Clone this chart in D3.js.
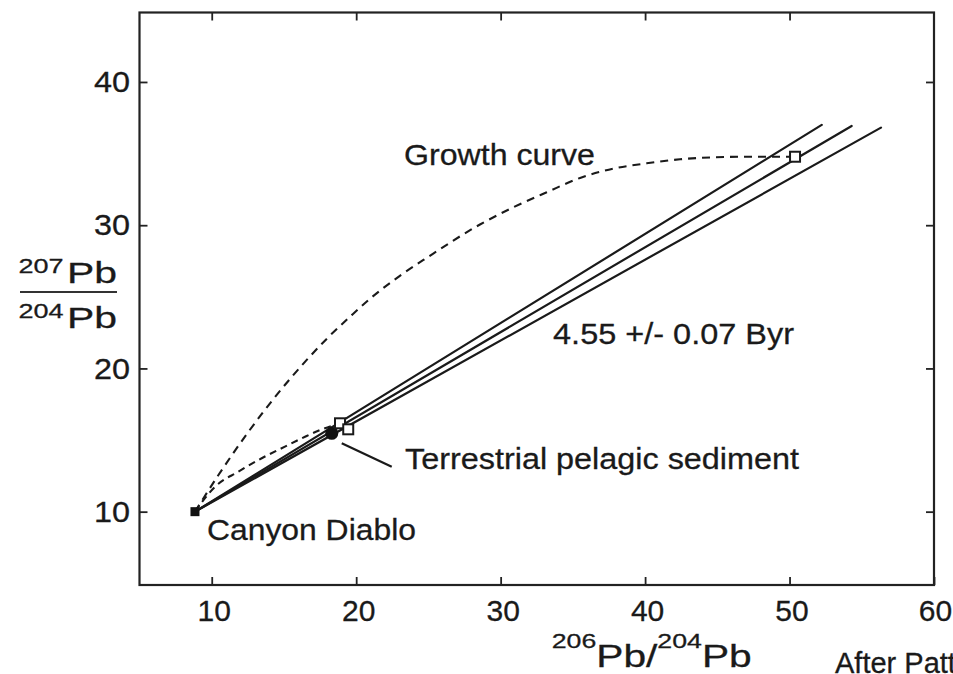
<!DOCTYPE html>
<html>
<head>
<meta charset="utf-8">
<script src="https://cdn.jsdelivr.net/npm/d3@7/dist/d3.min.js"></script>
<style>
  html, body { margin: 0; padding: 0; background: #fff; }
  svg { display: block; }
  text { font-family: "Liberation Sans", Arial, Helvetica, sans-serif; fill: #1a1a1a; stroke: #1a1a1a; stroke-width: 0.3; }
</style>
</head>
<body>
<script>
// Pb–Pb isochron diagram: 207Pb/204Pb versus 206Pb/204Pb

// Axis tick values
const xTicks = [10, 20, 30, 40, 50, 60];
const yTicks = [10, 20, 30, 40];

// Canyon Diablo troilite (primordial lead)
const canyonDiablo = [8.84, 10.0];

// Terrestrial pelagic sediment (filled circle)
const sediment = [18.31, 15.47];

// Open squares: modern lead estimates and the high-mu growth end point
const openSquareX = [18.88, 19.45, 50.38];
const openSquareY = [16.17, 15.75, 34.78];

// High-mu lead growth curve (dashed)
const growthX = [8.84, 10.5, 12.5, 14.5, 16.5, 18.0, 19.69, 21.0, 23.0, 25.0, 28.57,
                 30.88, 33.19, 35.5, 37.8, 40.11, 42.42, 44.72, 47.04, 50.38];
const growthY = [10.0, 12.61, 15.52, 18.15, 20.51, 22.11, 23.72, 24.9, 26.45, 27.8, 30.05,
                 31.25, 32.3, 33.3, 33.95, 34.32, 34.6, 34.74, 34.78, 34.78];

// Growth curve ending at terrestrial lead (dashed)
const crustX = [8.84, 10.23, 11.84, 13.46, 15.07, 16.46, 17.5, 18.88];
const crustY = [10.0, 11.74, 12.79, 13.73, 14.54, 15.23, 15.70, 16.17];

// Isochrons (4.55 Byr and its error envelope), from Canyon Diablo to these ends
const isochronEndX = [52.23, 54.30, 56.33];
const isochronEndY = [37.0, 36.93, 36.81];

// Pointer from the sediment point to its label
const pointerX = [19.0, 22.46];
const pointerY = [14.77, 13.14];

const W = 953, H = 674;
const svg = d3.select("body").append("svg").attr("width", W).attr("height", H);

const x = d3.scaleLinear().domain([5, 60]).range([139.5, 934]);
const y = d3.scaleLinear().domain([4.88, 44.85]).range([585, 12.5]);

const ink = "#1a1a1a";

// Frame
svg.append("rect")
  .attr("x", x(5)).attr("y", y(44.85))
  .attr("width", x(60) - x(5)).attr("height", y(4.88) - y(44.85))
  .attr("fill", "none").attr("stroke", "#222").attr("stroke-width", 2.2);

function styleAxis(g, fontSize) {
  g.select(".domain").remove();
  g.selectAll(".tick line").attr("stroke", "#222").attr("stroke-width", 1.8);
  g.selectAll(".tick text").attr("font-size", fontSize).attr("fill", ink)
    .attr("font-family", "'Liberation Sans', Arial, sans-serif");
}

// Bottom axis (inward ticks)
const gx = svg.append("g").attr("transform", `translate(0,${y(4.88)})`)
  .call(d3.axisBottom(x).tickValues(xTicks).tickSizeInner(-8).tickSizeOuter(0).tickPadding(15));
styleAxis(gx, 30);
gx.selectAll(".tick text").attr("dx", d => d === 60 ? 1 : 2);

// Top axis, ticks only
const gxt = svg.append("g").attr("transform", `translate(0,${y(44.85)})`)
  .call(d3.axisTop(x).tickValues(xTicks.slice(0, -1)).tickSizeInner(-8).tickSizeOuter(0).tickFormat(() => ""));
styleAxis(gxt, 0);

// Left axis
const gy = svg.append("g").attr("transform", `translate(${x(5)},0)`)
  .call(d3.axisLeft(y).tickValues(yTicks).tickSizeInner(-8).tickSizeOuter(0).tickPadding(9.5));
styleAxis(gy, 30);
gy.selectAll(".tick text").attr("textLength", 36).attr("lengthAdjust", "spacingAndGlyphs");

// Right axis, ticks only
const gyr = svg.append("g").attr("transform", `translate(${x(60)},0)`)
  .call(d3.axisRight(y).tickValues(yTicks).tickSizeInner(-8).tickSizeOuter(0).tickFormat(() => ""));
styleAxis(gyr, 0);

// Isochron lines
const line = d3.line().x(d => x(d[0])).y(d => y(d[1]));
isochronEndX.forEach((ex, i) => {
  svg.append("path")
    .attr("d", line([canyonDiablo, [ex, isochronEndY[i]]]))
    .attr("fill", "none").attr("stroke", ink).attr("stroke-width", 2.2)
    .attr("stroke-linecap", "round");
});

// Dashed growth curves
const curve = d3.line().x(d => x(d[0])).y(d => y(d[1])).curve(d3.curveMonotoneX);
svg.append("path")
  .attr("d", curve(growthX.map((v, i) => [v, growthY[i]])))
  .attr("fill", "none").attr("stroke", ink).attr("stroke-width", 2.1)
  .attr("stroke-dasharray", "8,6");
svg.append("path")
  .attr("d", curve(crustX.map((v, i) => [v, crustY[i]])))
  .attr("fill", "none").attr("stroke", ink).attr("stroke-width", 2.1)
  .attr("stroke-dasharray", "7,5");

// Pointer line
svg.append("path")
  .attr("d", line(pointerX.map((v, i) => [v, pointerY[i]])))
  .attr("fill", "none").attr("stroke", ink).attr("stroke-width", 2.2);

// Markers
svg.append("circle")
  .attr("cx", x(sediment[0])).attr("cy", y(sediment[1])).attr("r", 6.5)
  .attr("fill", "#111");

svg.selectAll("rect.open").data(openSquareX).enter().append("rect")
  .attr("class", "open")
  .attr("x", (d, i) => x(d) - 5).attr("y", (d, i) => y(openSquareY[i]) - 5)
  .attr("width", 10).attr("height", 10)
  .attr("fill", "#fff").attr("stroke", ink).attr("stroke-width", 2);

svg.append("rect")
  .attr("x", x(canyonDiablo[0]) - 4.5).attr("y", y(canyonDiablo[1]) - 4.5)
  .attr("width", 9).attr("height", 9).attr("fill", "#111");

// Annotations
function note(txt, dx, dy, len) {
  svg.append("text")
    .attr("x", x(dx)).attr("y", y(dy))
    .attr("font-size", 30)
    .attr("textLength", len).attr("lengthAdjust", "spacingAndGlyphs")
    .text(txt);
}
note("Growth curve", 23.31, 34.2, 191);
note("4.55 +/- 0.07 Byr", 33.63, 21.71, 241);
note("Terrestrial pelagic sediment", 23.38, 12.98, 394);
note("Canyon Diablo", 9.67, 8.02, 209);

// Y axis title as a stacked ratio
svg.append("text").attr("x", 18.5).attr("y", 273.3).attr("font-size", 21)
  .attr("textLength", 45).attr("lengthAdjust", "spacingAndGlyphs").text("207");
svg.append("text").attr("x", 67).attr("y", 283.3).attr("font-size", 30)
  .attr("textLength", 50).attr("lengthAdjust", "spacingAndGlyphs").text("Pb");
svg.append("line").attr("x1", 20).attr("x2", 117).attr("y1", 292).attr("y2", 292)
  .attr("stroke", "#333").attr("stroke-width", 2.2);
svg.append("text").attr("x", 18.5).attr("y", 318.3).attr("font-size", 21)
  .attr("textLength", 45).attr("lengthAdjust", "spacingAndGlyphs").text("204");
svg.append("text").attr("x", 67).attr("y", 328.3).attr("font-size", 30)
  .attr("textLength", 50).attr("lengthAdjust", "spacingAndGlyphs").text("Pb");

// X axis title
const xt = svg.append("text").attr("x", 551.7).attr("y", 667)
  .attr("textLength", 200).attr("lengthAdjust", "spacingAndGlyphs");
xt.append("tspan").attr("font-size", 21).attr("dy", -19).text("206");
xt.append("tspan").attr("font-size", 32).attr("dy", 19).text("Pb/");
xt.append("tspan").attr("font-size", 21).attr("dy", -19).text("204");
xt.append("tspan").attr("font-size", 32).attr("dy", 19).text("Pb");

// Source credit
svg.append("text").attr("x", 835).attr("y", 672.5).attr("font-size", 29)
  .text("After Patterson");
</script>
</body>
</html>
